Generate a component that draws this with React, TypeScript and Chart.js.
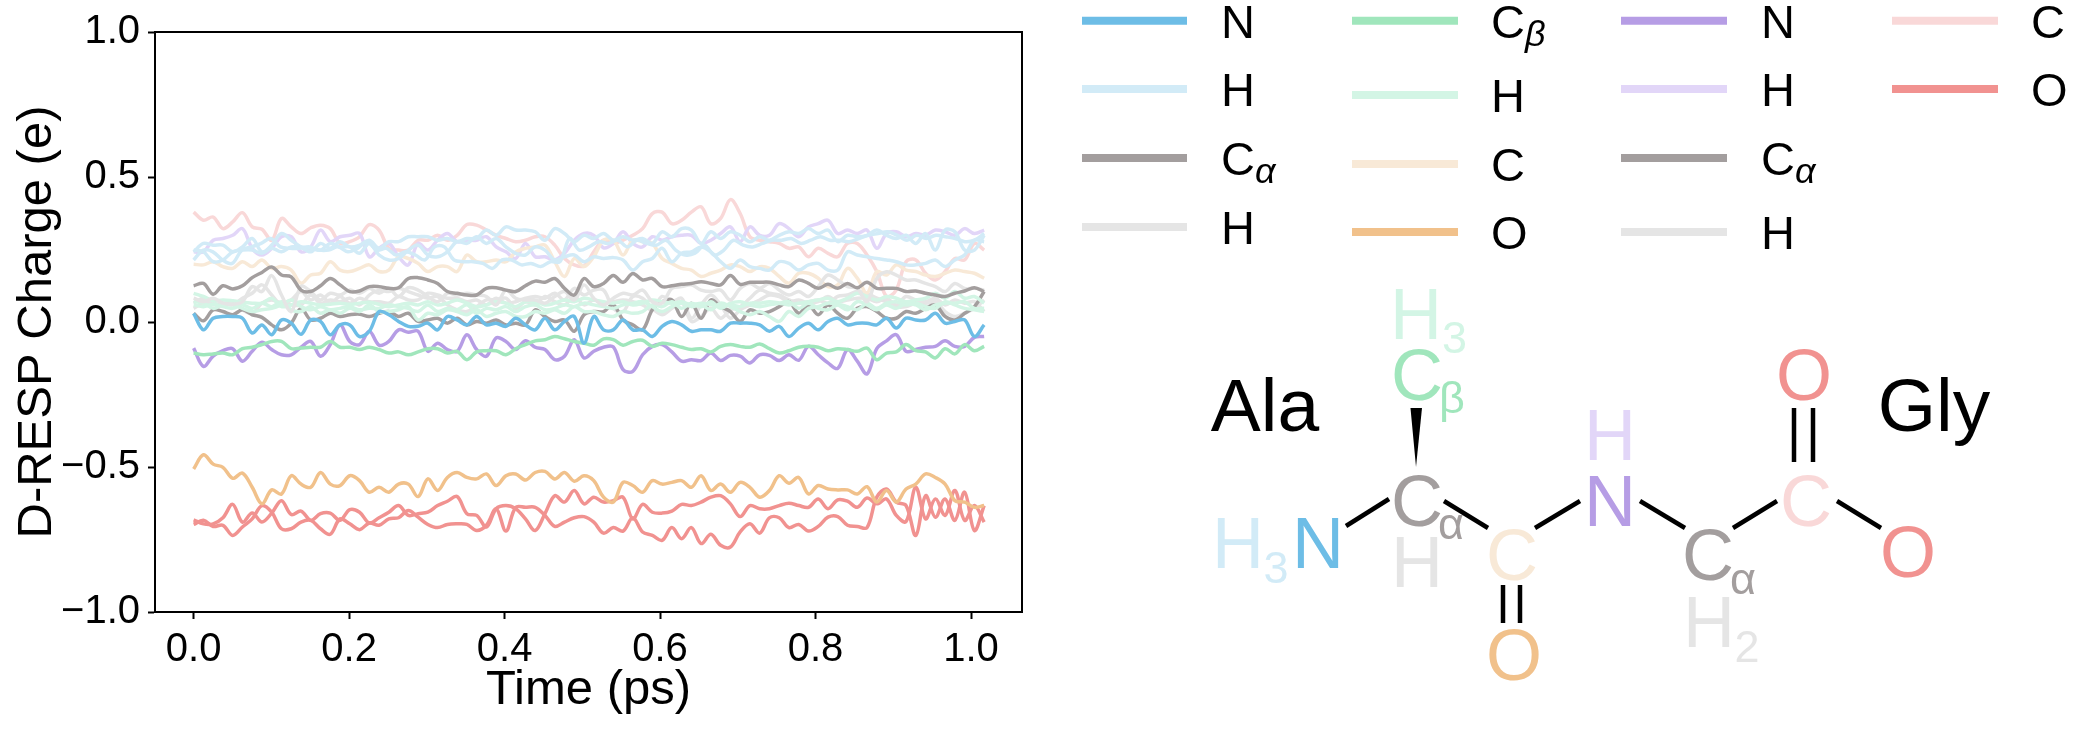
import React, { useEffect, useRef } from "react";
import { Chart, registerables } from "chart.js";

Chart.register(...registerables);

const FONT = '"Liberation Sans", Arial, sans-serif';
const TIME_END = 1.0169;
const xTickValues = [0, 0.2, 0.4, 0.6, 0.8, 1.0];

const blue = "#6DBDE6", paleBlue = "#D2EBF7", gray = "#A39E9E", lightGray = "#E5E5E5";
const green = "#A0E6BC", mint = "#D3F5E5", cream = "#F8E9D7", orange = "#F1C18B";
const purple = "#B69DE5", palePurple = "#E2D6F8", pink = "#F9D8D8", red = "#F19290";

const alaN = [.03,-.027,.013,.019,.019,.013,-.038,-.01,-.044,.007,-.004,-.042,.007,.002,-.044,-.01,-.01,-.05,-.032,.036,.025,.002,-.015,-.015,-.004,-.027,.019,.007,-.01,.019,-.01,-.004,-.015,.013,-.01,-.027,.013,-.027,.002,.019,-.073,
.019,-.027,-.027,.007,-.027,-.027,-.05,-.015,.002,-.01,-.032,-.027,-.027,-.032,-.004,-.004,-.004,-.01,-.032,-.015,-.05,-.021,-.004,-.027,.002,.013,-.01,-.004,-.004,-.01,.013,-.021,.013,.007,.007,.03,-.004,.002,.007,-.05,-.01];
const alaH1 = [.242,.271,.265,.265,.242,.259,.288,.242,.265,.305,.282,.259,.242,.271,.254,.277,.259,.265,.282,.254,.277,.277,.294,.294,.294,.282,.288,.277,.288,.288,.317,.299,.328,.317,.317,.311,.282,.322,.305,.277,.299,
.288,.305,.282,.294,.282,.288,.271,.311,.294,.322,.317,.271,.311,.288,.311,.299,.277,.294,.282,.299,.311,.305,.322,.305,.317,.277,.299,.294,.299,.317,.299,.288,.299,.271,.305,.248,.317,.311,.248,.248,.299];
const alaH2 = [.214,.248,.242,.214,.202,.248,.259,.271,.288,.259,.254,.254,.259,.248,.248,.259,.242,.254,.277,.248,.254,.231,.242,.231,.214,.259,.259,.214,.208,.208,.202,.185,.214,.214,.197,.202,.191,.208,.208,.288,.248,
.259,.277,.271,.282,.259,.282,.271,.265,.282,.248,.231,.237,.265,.231,.248,.282,.265,.259,.271,.282,.282,.288,.271,.282,.294,.282,.282,.277,.288,.299,.305,.311,.299,.282,.299,.288,.299,.294,.288,.277,.282,.305];
const alaH3 = [.248,.242,.208,.214,.242,.248,.248,.237,.254,.242,.259,.259,.254,.248,.271,.259,.259,.237,.271,.231,.214,.219,.248,.265,.231,.225,.242,.277,.271,.294,.271,.288,.259,.237,.231,.259,.248,.214,.225,.231,.208,
.225,.219,.222,.214,.179,.208,.219,.254,.208,.237,.242,.259,.242,.208,.185,.214,.191,.185,.179,.208,.202,.179,.197,.202,.179,.179,.242,.231,.225,.219,.214,.208,.197,.197,.202,.214,.191,.214,.231,.282,.277];
const alaCa = [.125,.133,.096,.125,.114,.125,.153,.171,.19,.162,.156,.11,.105,.125,.15,.128,.105,.107,.122,.122,.116,.118,.15,.153,.145,.133,.105,.099,.093,.093,.116,.118,.11,.105,.125,.141,.137,.15,.116,.093,.15,
.122,.133,.16,.137,.167,.145,.15,.122,.125,.13,.133,.139,.133,.128,.16,.13,.137,.137,.137,.128,.122,.145,.133,.116,.13,.116,.133,.118,.137,.116,.116,.116,.105,.107,.099,.093,.088,.099,.107,.118,.105];
const alaHa = [.082,.07,.082,.065,.061,.07,.122,.105,.16,.093,.036,.122,.105,.076,.099,.093,.11,.099,.116,.099,.116,.088,.118,.11,.088,.07,.099,.093,.099,.093,.088,.059,.11,.082,.076,.076,.065,.088,.105,.076,.128,
.082,.059,.082,.099,.093,.11,.07,.065,.116,.122,.128,.11,.105,.11,.076,.116,.133,.116,.133,.11,.093,.105,.088,.122,.162,.145,.122,.116,.07,.15,.173,.162,.145,.145,.133,.122,.105,.133,.116,.116,.11];
const alaCb = [-.107,-.113,-.11,-.107,-.113,-.092,-.087,-.078,-.067,-.067,-.092,-.09,-.087,-.087,-.067,-.087,-.087,-.095,-.087,-.095,-.107,-.103,-.113,-.103,-.092,-.092,-.107,-.101,-.13,-.103,-.099,-.099,-.113,-.092,-.078,-.065,-.061,-.05,-.058,-.067,-.073,
-.08,-.058,-.061,-.08,-.067,-.063,-.084,-.073,-.078,-.087,-.095,-.092,-.103,-.084,-.078,-.084,-.087,-.076,-.092,-.107,-.099,-.087,-.084,-.087,-.099,-.092,-.095,-.101,-.09,-.13,-.107,-.103,-.078,-.099,-.103,-.124,-.092,-.11,-.078,-.099,-.084];
const alaHb1 = [.099,.088,.073,.076,.073,.068,.065,.065,.082,.053,.059,.07,.065,.059,.061,.065,.061,.065,.068,.061,.053,.059,.065,.059,.07,.059,.065,.076,.065,.053,.059,.07,.065,.053,.07,.07,.059,.065,.076,.07,.082,
.076,.07,.065,.07,.059,.065,.076,.07,.065,.07,.059,.065,.059,.053,.059,.053,.065,.065,.07,.065,.059,.065,.07,.076,.082,.07,.082,.099,.088,.076,.088,.082,.07,.076,.082,.099,.082,.105,.082,.088,.065];
const alaHb2 = [.07,.065,.047,.059,.059,.047,.036,.042,.047,.059,.076,.053,.042,.053,.042,.047,.053,.042,.047,.047,.059,.053,.047,.036,.059,.036,.047,.042,.059,.03,.047,.042,.053,.036,.053,.059,.042,.047,.059,.053,.065,
.059,.053,.047,.059,.065,.07,.053,.036,.053,.065,.053,.059,.042,.065,.053,.036,.025,.036,.019,.002,.036,.019,.047,.053,.065,.059,.042,.07,.059,.042,.059,.047,.065,.059,.042,.059,.065,.065,.07,.047,.047];
const alaHb3 = [.059,.053,.061,.053,.047,.059,.047,.065,.053,.07,.042,.036,.053,.03,.042,.03,.047,.036,.059,.036,.036,.042,.053,.007,.03,.025,.042,.036,.025,.042,.019,.03,.036,.019,.019,.036,.03,.042,.03,.053,.036,
.036,.025,.019,.036,.03,.036,.059,.053,.07,.047,.065,.053,.07,.047,.065,.07,.059,.053,.059,.065,.07,.047,.065,.047,.042,.059,.053,.042,.065,.047,.065,.07,.059,.065,.053,.047,.07,.059,.047,.042,.036];
const alaC = [.199,.197,.208,.191,.185,.208,.191,.214,.185,.191,.179,.134,.162,.168,.208,.179,.174,.185,.197,.174,.179,.225,.219,.202,.174,.191,.191,.174,.231,.208,.208,.214,.208,.242,.254,.259,.265,.208,.157,.219,.191,
.225,.282,.282,.231,.282,.277,.271,.219,.202,.185,.179,.157,.168,.179,.197,.191,.174,.191,.185,.157,.134,.168,.168,.151,.122,.128,.185,.151,.1,.174,.162,.197,.179,.174,.162,.157,.168,.179,.174,.168,.151];
const alaO = [-.507,-.458,-.49,-.501,-.539,-.521,-.57,-.627,-.579,-.593,-.53,-.559,-.57,-.519,-.559,-.564,-.53,-.547,-.587,-.57,-.587,-.559,-.559,-.602,-.541,-.581,-.536,-.519,-.536,-.541,-.524,-.564,-.53,-.524,-.545,-.519,-.515,-.541,-.519,-.549,-.53,
-.547,-.604,-.621,-.553,-.564,-.587,-.547,-.559,-.553,-.547,-.57,-.53,-.581,-.559,-.587,-.553,-.57,-.604,-.581,-.53,-.556,-.536,-.593,-.564,-.576,-.579,-.579,-.593,-.568,-.621,-.581,-.621,-.576,-.559,-.524,-.536,-.559,-.616,-.621,-.639,-.633];
const glyN = [-.09,-.153,-.118,-.099,-.092,-.135,-.101,-.07,-.095,-.113,-.113,-.087,-.067,-.118,-.078,-.01,-.067,-.078,-.032,-.08,-.067,-.027,-.035,-.032,-.101,-.073,-.095,-.101,-.044,-.095,-.118,-.055,-.067,-.095,-.065,-.087,-.095,-.13,-.118,-.061,-.124,
-.101,-.087,-.086,-.164,-.17,-.113,-.084,-.078,-.103,-.135,-.13,-.133,-.107,-.133,-.115,-.118,-.141,-.113,-.115,-.133,-.113,-.132,-.084,-.113,-.141,-.16,-.095,-.135,-.179,-.092,-.065,-.044,-.101,-.095,-.087,-.084,-.065,-.084,-.084,-.053,-.05];
const glyH = [.242,.242,.282,.288,.299,.322,.254,.231,.254,.294,.294,.242,.259,.317,.277,.294,.299,.305,.225,.254,.271,.225,.197,.271,.248,.282,.305,.277,.282,.282,.294,.259,.242,.219,.271,.225,.225,.214,.237,.282,.305,
.299,.256,.271,.311,.271,.259,.294,.282,.294,.299,.299,.271,.282,.305,.328,.277,.328,.299,.299,.339,.322,.294,.328,.339,.351,.305,.317,.305,.317,.254,.305,.311,.294,.305,.299,.317,.311,.299,.322,.305,.317];
const glyCa = [.03,.004,.042,.036,.025,.042,.025,.016,-.01,-.027,-.004,.047,.007,.013,.03,.019,.025,.027,.019,.03,.036,.019,.03,.002,.007,.013,-.004,.013,-.01,.002,-.004,.007,-.01,-.004,-.01,.042,.019,.002,.007,-.032,.025,
.036,.036,.059,.007,-.01,-.027,.042,.07,.076,.019,.065,.013,.076,.053,.036,.002,.042,.03,.036,.053,.07,.03,.059,.025,.059,.03,.013,.047,.053,.036,.013,.013,.036,.03,.047,.059,.019,.007,.03,.053,.105];
const glyHa1 = [.065,.082,.065,.059,.07,.042,.03,.065,.076,.065,.059,.059,.093,.065,.076,.07,.082,.059,.093,.11,.105,.116,.105,.093,.082,.088,.059,.042,.036,.053,.076,.076,.082,.047,.07,.059,.088,.07,.059,.088,.059,
.076,.065,.07,.076,.07,.059,.042,.088,.07,.082,.013,.059,.093,.059,.013,.042,.059,.076,.093,.088,.07,.076,.065,.07,.088,.07,.076,.082,.082,.07,.082,.059,.088,.076,.07,.082,.059,.076,.065,.07,.036];
const glyHa2 = [.047,.065,.059,.065,.059,.082,.099,.128,.093,.059,.076,.105,.076,.093,.065,.088,.065,.082,.07,.07,.065,.088,.076,.076,.099,.093,.082,.082,.07,.076,.059,.082,.065,.07,.082,.088,.082,.099,.076,.116,.093,
.11,.11,.047,.036,.088,.082,.047,.025,.047,.07,.002,.019,.047,.013,.042,.053,.082,.11,.099,.093,.076,.065,.07,.076,.065,.088,.093,.105,.099,.082,.07,.053,.053,.065,.065,.07,.036,.019,.03,.047,.076];
const glyC = [.379,.351,.362,.322,.345,.377,.328,.32,.282,.357,.328,.305,.325,.334,.322,.271,.277,.294,.336,.317,.254,.248,.248,.282,.282,.299,.282,.299,.336,.334,.317,.299,.288,.277,.282,.294,.294,.265,.219,.197,.193,
.242,.282,.271,.282,.299,.322,.374,.379,.339,.351,.379,.397,.339,.357,.422,.374,.294,.282,.277,.271,.254,.259,.225,.254,.237,.225,.271,.271,.231,.174,.088,.111,.208,.214,.168,.145,.174,.219,.214,.271,.248];
const glyO1 = [-.682,-.696,-.696,-.675,-.629,-.69,-.659,-.69,-.659,-.616,-.664,-.652,-.684,-.661,-.659,-.684,-.647,-.656,-.693,-.675,-.656,-.633,-.667,-.661,-.656,-.633,-.618,-.602,-.661,-.667,-.707,-.644,-.633,-.644,-.679,-.719,-.661,-.599,-.621,-.581,-.627,
-.604,-.621,-.616,-.604,-.679,-.629,-.656,-.659,-.652,-.629,-.633,-.621,-.604,-.599,-.627,-.671,-.633,-.644,-.644,-.633,-.625,-.633,-.639,-.61,-.644,-.613,-.618,-.639,-.607,-.627,-.61,-.667,-.688,-.57,-.679,-.61,-.667,-.581,-.684,-.633,-.69];
const glyO2 = [-.698,-.684,-.705,-.701,-.736,-.707,-.679,-.633,-.656,-.713,-.713,-.69,-.684,-.713,-.732,-.679,-.696,-.716,-.693,-.701,-.679,-.675,-.65,-.673,-.698,-.709,-.698,-.696,-.698,-.719,-.701,-.644,-.721,-.639,-.639,-.639,-.667,-.705,-.69,-.675,-.671,
-.69,-.728,-.709,-.721,-.675,-.724,-.736,-.753,-.709,-.747,-.709,-.764,-.732,-.77,-.776,-.724,-.696,-.728,-.675,-.675,-.709,-.698,-.721,-.705,-.673,-.671,-.701,-.705,-.709,-.604,-.576,-.621,-.633,-.736,-.599,-.673,-.61,-.684,-.587,-.719,-.633];

const seriesTable: [string, string, number[]][] = [
  ["Ala N", blue, alaN],
  ["Ala H1", paleBlue, alaH1],
  ["Ala H2", paleBlue, alaH2],
  ["Ala H3", paleBlue, alaH3],
  ["Ala Cα", gray, alaCa],
  ["Ala Hα", lightGray, alaHa],
  ["Ala Cβ", green, alaCb],
  ["Ala Hβ1", mint, alaHb1],
  ["Ala Hβ2", mint, alaHb2],
  ["Ala Hβ3", mint, alaHb3],
  ["Ala C", cream, alaC],
  ["Ala O", orange, alaO],
  ["Gly N", purple, glyN],
  ["Gly H", palePurple, glyH],
  ["Gly Cα", gray, glyCa],
  ["Gly Hα1", lightGray, glyHa1],
  ["Gly Hα2", lightGray, glyHa2],
  ["Gly C", pink, glyC],
  ["Gly O1", red, glyO1],
  ["Gly O2", red, glyO2],
];

// legend: [colour, main label, subscript]
const legendColumns: [string, string, string][][] = [
  [[blue, "N", ""], [paleBlue, "H", ""], [gray, "C", "α"], [lightGray, "H", ""]],
  [[green, "C", "β"], [mint, "H", ""], [cream, "C", ""], [orange, "O", ""]],
  [[purple, "N", ""], [palePurple, "H", ""], [gray, "C", "α"], [lightGray, "H", ""]],
  [[pink, "C", ""], [red, "O", ""]],
];
const legendLineX = [[1082, 1187], [1352, 1458], [1621, 1727], [1892, 1998]];
const legendTextX = [1221, 1491, 1761, 2031];
const legendRowY = [[20.7, 89, 158, 227], [20.7, 95, 164, 232], [20.7, 89, 158, 232], [20.7, 89]];

// molecule drawing: text, colour, centre x, baseline y, font size
const moleculeText: [string, string, number, number, number][] = [
  ["Ala", "#000", 1265, 431, 75],
  ["Gly", "#000", 1934, 431, 75],
  ["H", mint, 1416, 339, 72], ["3", mint, 1454.5, 353, 45],
  ["C", green, 1417, 400, 72], ["β", green, 1452, 413, 45],
  ["O", red, 1804, 400, 72],
  ["H", palePurple, 1610, 460, 72],
  ["N", purple, 1610, 526, 72],
  ["C", gray, 1417, 526, 72], ["α", gray, 1451, 539, 45],
  ["H", paleBlue, 1238, 568, 72], ["3", paleBlue, 1276, 583, 45],
  ["N", blue, 1318, 568, 72],
  ["H", lightGray, 1417, 587, 72],
  ["C", cream, 1512, 580, 72],
  ["O", orange, 1514, 680, 72],
  ["C", gray, 1708, 580, 72], ["α", gray, 1743, 594, 45],
  ["H", lightGray, 1709, 647, 72], ["2", lightGray, 1747, 662, 45],
  ["C", pink, 1806, 526, 72],
  ["O", red, 1908, 577, 72],
];
const moleculeBonds = [
  [1346, 526, 1389, 499], [1444, 501, 1488, 528], [1535, 528, 1580, 501],
  [1640, 501, 1685, 528], [1733, 528, 1777, 501], [1837, 501, 1881, 528],
  [1503, 585, 1503, 623], [1520, 585, 1520, 623],
  [1794, 408, 1794, 462], [1813, 408, 1813, 462],
];

const decorations = {
  id: "decorations",
  afterDatasetsDraw(chart: any) {
    const { ctx, chartArea } = chart;
    ctx.save();
    ctx.strokeStyle = "#000";
    ctx.lineWidth = 2;
    ctx.strokeRect(chartArea.left, chartArea.top, chartArea.right - chartArea.left, chartArea.bottom - chartArea.top);

    legendColumns.forEach((col, c) => {
      col.forEach(([colour, label, sub], r) => {
        const y = legendRowY[c][r];
        ctx.strokeStyle = colour;
        ctx.lineWidth = 8;
        ctx.beginPath();
        ctx.moveTo(legendLineX[c][0], y);
        ctx.lineTo(legendLineX[c][1], y);
        ctx.stroke();
        ctx.fillStyle = "#000";
        ctx.textAlign = "left";
        ctx.textBaseline = "alphabetic";
        ctx.font = `47px ${FONT}`;
        ctx.fillText(label, legendTextX[c], y + 17);
        if (sub) {
          ctx.font = `italic 36px ${FONT}`;
          ctx.fillText(sub, legendTextX[c] + 34, y + 25);
        }
      });
    });

    ctx.strokeStyle = "#000";
    ctx.lineWidth = 4.5;
    moleculeBonds.forEach(([a, b, c, d]) => {
      ctx.beginPath();
      ctx.moveTo(a, b);
      ctx.lineTo(c, d);
      ctx.stroke();
    });
    ctx.fillStyle = "#000";
    ctx.beginPath();
    ctx.moveTo(1410.5, 408);
    ctx.lineTo(1422, 408);
    ctx.lineTo(1416, 467);
    ctx.closePath();
    ctx.fill();

    ctx.textAlign = "center";
    ctx.textBaseline = "alphabetic";
    moleculeText.forEach(([t, colour, x, y, size]) => {
      ctx.fillStyle = colour;
      ctx.font = `${size}px ${FONT}`;
      ctx.fillText(t, x, y);
    });
    ctx.restore();
  },
};

export default function App() {
  const ref = useRef<HTMLCanvasElement>(null);
  useEffect(() => {
    const chart = new Chart(ref.current as HTMLCanvasElement, {
      type: "line",
      data: {
        datasets: seriesTable.map(([label, colour, values]) => ({
          label,
          borderColor: colour,
          backgroundColor: colour,
          borderWidth: 3.5,
          pointRadius: 0,
          tension: 0.35,
          borderJoinStyle: "round" as const,
          data: values.map((y, i) => ({ x: (i * TIME_END) / (values.length - 1), y })),
        })),
      },
      plugins: [decorations],
      options: {
        responsive: false,
        animation: false,
        layout: { padding: { left: 0, top: 29, right: 1078, bottom: 0 } },
        plugins: { legend: { display: false }, tooltip: { enabled: false } },
        scales: {
          x: {
            type: "linear",
            min: -0.0497,
            max: 1.0656,
            afterBuildTicks: (s: any) => { s.ticks = xTickValues.map((value) => ({ value })); },
            afterFit: (s: any) => { s.height = 120; },
            ticks: {
              color: "#000",
              padding: 7,
              maxRotation: 0,
              autoSkip: false,
              font: { family: FONT, size: 40 },
              callback: (v: any) => Number(v).toFixed(1),
            },
            grid: { drawOnChartArea: false, drawTicks: true, tickLength: 7, tickWidth: 2, tickColor: "#000" },
            border: { display: true, width: 2, color: "#000" },
            title: { display: true, text: "Time (ps)", color: "#000", font: { family: FONT, size: 49 }, padding: { top: 0, bottom: 12 } },
          },
          y: {
            min: -1,
            max: 1,
            afterFit: (s: any) => { s.width = 155; },
            ticks: {
              stepSize: 0.5,
              color: "#000",
              padding: 8,
              font: { family: FONT, size: 40 },
              callback: (v: any) => Number(v).toFixed(1).replace("-", "\u2212"),
            },
            grid: { drawOnChartArea: false, drawTicks: true, tickLength: 7, tickWidth: 2, tickColor: "#000" },
            border: { display: true, width: 2, color: "#000" },
            title: { display: true, text: "D-RESP Charge (e)", color: "#000", font: { family: FONT, size: 49 }, padding: { top: 8, bottom: 0 } },
          },
        },
      },
    } as any);
    return () => chart.destroy();
  }, []);
  return (
    <canvas
      ref={ref}
      width={2100}
      height={732}
      style={{ position: "absolute", left: 0, top: 0, display: "block" }}
    />
  );
}
